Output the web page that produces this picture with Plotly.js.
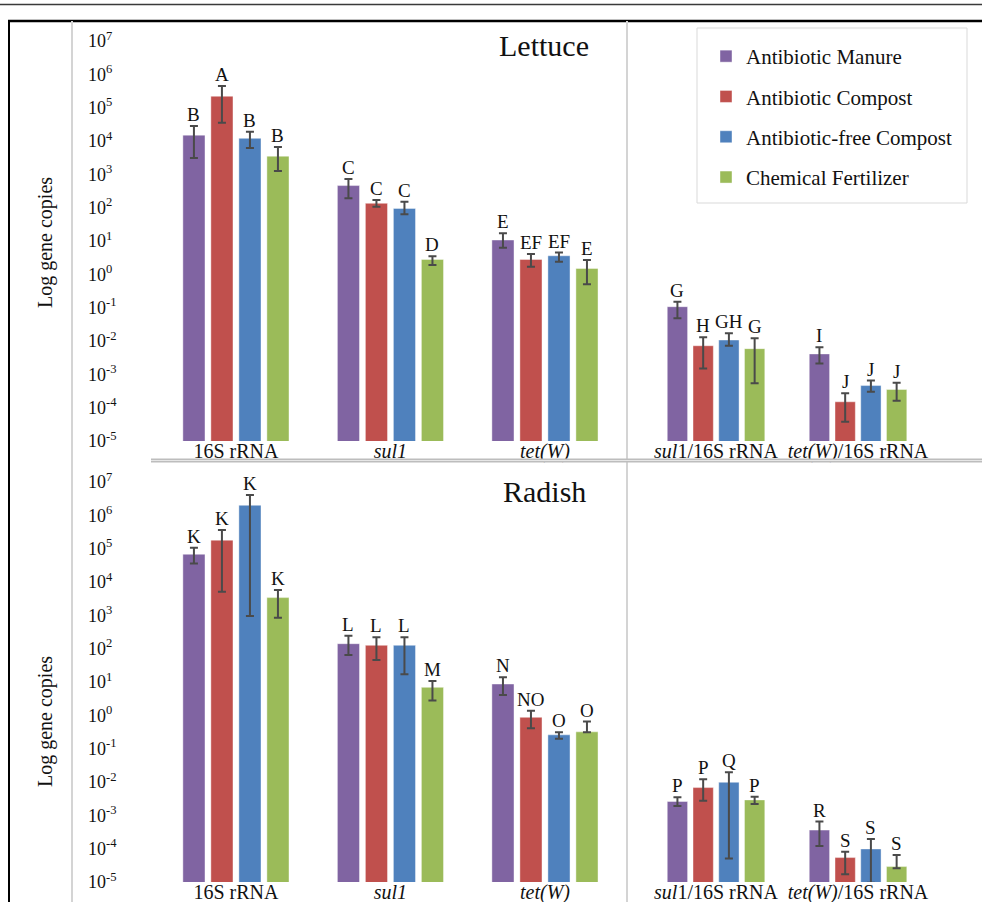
<!DOCTYPE html>
<html>
<head>
<meta charset="utf-8">
<script src="https://cdn.plot.ly/plotly-3.0.1.min.js"></script>
<style>
  html, body { margin: 0; padding: 0; background: #fff; }
  #chart { width: 982px; height: 902px; }
</style>
</head>
<body>
<div id="chart"></div>
<script>
// Gene categories (first three: absolute copies, last two: relative abundance)
const categories = ['16S rRNA', 'sul1', 'tet(W)', 'sul1/16S rRNA', 'tet(W)/16S rRNA'];
const categoryLabels = ['16S rRNA', '<i>sul1</i>', '<i>tet(W)</i>', '<i>sul</i>1/16S rRNA', '<i>tet(W)</i>/16S rRNA'];

// Fertilization treatments
const treatments = ['Antibiotic Manure', 'Antibiotic Compost', 'Antibiotic-free Compost', 'Chemical Fertilizer'];
const treatmentColors = ['#8064A2', '#C0504D', '#4F81BD', '#9BBB59'];

// Lettuce: means, error bar upper / lower ends, significance letters (one row per treatment)
const lettuceMean = [
  [1.5e4, 460, 10.7, 0.107, 4.1e-3],
  [2.2e5, 135, 2.8, 7.2e-3, 1.5e-4],
  [1.2e4, 95, 3.6, 1.07e-2, 4.6e-4],
  [3.5e3, 2.8, 1.5, 5.9e-3, 3.5e-4]
];
const lettuceHigh = [
  [2.8e4, 720, 17, 0.15, 6.5e-3],
  [4.5e5, 170, 4.1, 1.3e-2, 2.7e-4],
  [1.9e4, 150, 4.5, 1.7e-2, 6.5e-4],
  [6.6e3, 3.5, 2.7, 1.2e-2, 5.6e-4]
];
const lettuceLow = [
  [3.1e3, 190, 6.3, 0.048, 2.1e-3],
  [3.5e4, 107, 1.7, 1.5e-3, 3.8e-5],
  [6.2e3, 63, 2.4, 7.2e-3, 3.0e-4],
  [1.26e3, 1.9, 0.5, 5.4e-4, 1.6e-4]
];
const lettuceLetters = [
  ['B', 'C', 'E', 'G', 'I'],
  ['A', 'C', 'EF', 'H', 'J'],
  ['B', 'C', 'EF', 'GH', 'J'],
  ['B', 'D', 'E', 'G', 'J']
];

// Radish
const radishMean = [
  [6.8e4, 141, 8.7, 2.6e-3, 3.6e-4],
  [1.8e5, 126, 0.87, 6.8e-3, 5.4e-5],
  [2.0e6, 126, 0.26, 9.8e-3, 9.8e-5],
  [3.4e3, 6.9, 0.32, 2.9e-3, 2.9e-5]
];
const radishHigh = [
  [1.07e5, 245, 13.8, 3.5e-3, 6.5e-4],
  [3.6e5, 219, 1.38, 1.2e-2, 8.1e-5],
  [4.1e6, 219, 0.31, 1.95e-2, 1.95e-4],
  [5.8e3, 10.7, 0.65, 3.6e-3, 6.5e-5]
];
const radishLow = [
  [3.6e4, 65, 4.1, 1.9e-3, 1.2e-4],
  [5.1e3, 46, 0.41, 2.75e-3, 1.7e-5],
  [9.5e2, 17, 0.20, 5.1e-5, 9.5e-6],
  [8.5e2, 2.8, 0.31, 2.2e-3, 2.6e-5]
];
const radishLetters = [
  ['K', 'L', 'N', 'P', 'R'],
  ['K', 'L', 'NO', 'P', 'S'],
  ['K', 'L', 'O', 'Q', 'S'],
  ['K', 'M', 'O', 'P', 'S']
];

const yTickVals = [1e-5, 1e-4, 1e-3, 1e-2, 1e-1, 1, 1e1, 1e2, 1e3, 1e4, 1e5, 1e6, 1e7];
const yTickText = ['-5', '-4', '-3', '-2', '-1', '0', '1', '2', '3', '4', '5', '6', '7']
  .map(e => '10<sup>' + e + '</sup>');

const W = 982, H = 902;
const px = x => x / W;
const py = y => 1 - y / H;
const SERIF = 'Liberation Serif, Times New Roman, serif';
const BARGAP = 0.275, SLOT = (1 - BARGAP) / 4;

const panels = [
  { mean: lettuceMean, high: lettuceHigh, low: lettuceLow, letters: lettuceLetters,
    axes: [['x', 'y'], ['x2', 'y2']], title: 'Lettuce', titleY: 45 },
  { mean: radishMean, high: radishHigh, low: radishLow, letters: radishLetters,
    axes: [['x3', 'y3'], ['x4', 'y4']], title: 'Radish', titleY: 492 }
];
// which categories go on the left / right sub-panel
const sideCats = [[0, 1, 2], [3, 4]];

const traces = [];
const annotations = [];

panels.forEach((p, pi) => {
  sideCats.forEach((cats, si) => {
    const [xa, ya] = p.axes[si];
    treatments.forEach((name, ti) => {
      const x = cats.map(c => categories[c]);
      const y = cats.map(c => p.mean[ti][c]);
      const up = cats.map(c => p.high[ti][c] - p.mean[ti][c]);
      const dn = cats.map(c => p.mean[ti][c] - p.low[ti][c]);
      traces.push({
        type: 'bar', name: name, x: x, y: y, xaxis: xa, yaxis: ya,
        legendgroup: name, showlegend: pi === 0 && si === 0,
        marker: { color: treatmentColors[ti], line: { width: 0.6, color: 'rgba(255,255,255,0.7)' } },
        error_y: { type: 'data', symmetric: false, array: up, arrayminus: dn,
                   color: '#4a4a4a', thickness: 2, width: 4 },
        hoverinfo: 'name+y'
      });
      cats.forEach((c, k) => {
        annotations.push({
          xref: xa, yref: ya,
          x: k + (ti - 1.5) * SLOT,
          y: Math.log10(p.high[ti][c]),
          text: p.letters[ti][c], showarrow: false,
          xanchor: 'center', yanchor: 'bottom', yshift: -1,
          font: { family: SERIF, size: 19, color: '#111' }
        });
      });
    });
  });
  annotations.push({
    xref: 'paper', yref: 'paper', x: px(544), y: py(p.titleY),
    text: p.title, showarrow: false, xanchor: 'center', yanchor: 'middle',
    font: { family: SERIF, size: 30, color: '#111' }
  });
  annotations.push({
    xref: 'paper', yref: 'paper', x: px(45), y: py(pi === 0 ? 243 : 722),
    text: 'Log gene copies', textangle: -90, showarrow: false,
    xanchor: 'center', yanchor: 'middle',
    font: { family: SERIF, size: 20, color: '#111' }
  });
});

const yRange = [-5, 7.6];
const topDomain = [py(441), py(21)];
const botDomain = [py(882), py(462)];
const leftDomain = [px(72), px(627)];
const rightDomain = [px(627), 1];

function xAxis(domain, anchor, range) {
  return {
    domain: domain, anchor: anchor, type: 'category', range: range,
    tickvals: categories, ticktext: categoryLabels,
    showgrid: false, zeroline: false, showline: false, ticks: '',
    ticklabelstandoff: -4,
    tickfont: { family: SERIF, size: 20, color: '#111' }, fixedrange: true
  };
}
function yAxisLabelled(domain) {
  return {
    domain: domain, type: 'log', range: yRange, anchor: 'free', position: px(87), side: 'right',
    tickvals: yTickVals, ticktext: yTickText,
    showgrid: false, zeroline: false, showline: false, ticks: '',
    tickfont: { family: SERIF, size: 18, color: '#111' }, fixedrange: true
  };
}
function yAxisPlain(domain, anchor) {
  return {
    domain: domain, type: 'log', range: yRange, anchor: anchor,
    showgrid: false, zeroline: false, showline: false, ticks: '', showticklabels: false, fixedrange: true
  };
}

const line = (x0, y0, x1, y1, color, width) => ({
  type: 'line', xref: 'paper', yref: 'paper', x0: px(x0), y0: py(y0), x1: px(x1), y1: py(y1),
  line: { color: color, width: width }
});

const shapes = [
  line(0, 4.5, 982, 4.5, '#3a3a3a', 1.5),
  line(8, 21, 982, 21, '#000', 2.5),
  line(9, 21, 9, 902, '#000', 2),
  line(72, 21, 72, 902, '#d4d4d4', 2),
  line(627, 21, 627, 902, '#d4d4d4', 2),
  line(151, 460.5, 982, 460.5, '#bdbdbd', 4),
  line(151, 460.5, 982, 460.5, '#e6e6e6', 1),
  { type: 'rect', xref: 'paper', yref: 'paper', x0: px(697), x1: px(967), y0: py(203), y1: py(28),
    line: { color: '#d9d9d9', width: 1 }, fillcolor: 'rgba(0,0,0,0)' }
];

const layout = {
  width: W, height: H,
  margin: { l: 0, r: 0, t: 0, b: 0, pad: 0 },
  paper_bgcolor: '#fff', plot_bgcolor: 'rgba(0,0,0,0)',
  barmode: 'group', bargap: BARGAP, bargroupgap: 0.21,
  font: { family: SERIF, color: '#111' },
  showlegend: true,
  legend: {
    x: px(706), y: py(36), xanchor: 'left', yanchor: 'top',
    traceorder: 'grouped', tracegroupgap: 10,
    font: { family: SERIF, size: 21, color: '#111' },
    bgcolor: 'rgba(0,0,0,0)', borderwidth: 0
  },
  xaxis: xAxis(leftDomain, 'y', [-1.061, 2.531]),
  yaxis: yAxisLabelled(topDomain),
  xaxis2: xAxis(rightDomain, 'y2', [-0.627, 1.873]),
  yaxis2: yAxisPlain(topDomain, 'x2'),
  xaxis3: xAxis(leftDomain, 'y3', [-1.061, 2.531]),
  yaxis3: yAxisLabelled(botDomain),
  xaxis4: xAxis(rightDomain, 'y4', [-0.627, 1.873]),
  yaxis4: yAxisPlain(botDomain, 'x4'),
  shapes: shapes,
  annotations: annotations
};

Plotly.newPlot('chart', traces, layout, { staticPlot: true, displayModeBar: false });
</script>
</body>
</html>
